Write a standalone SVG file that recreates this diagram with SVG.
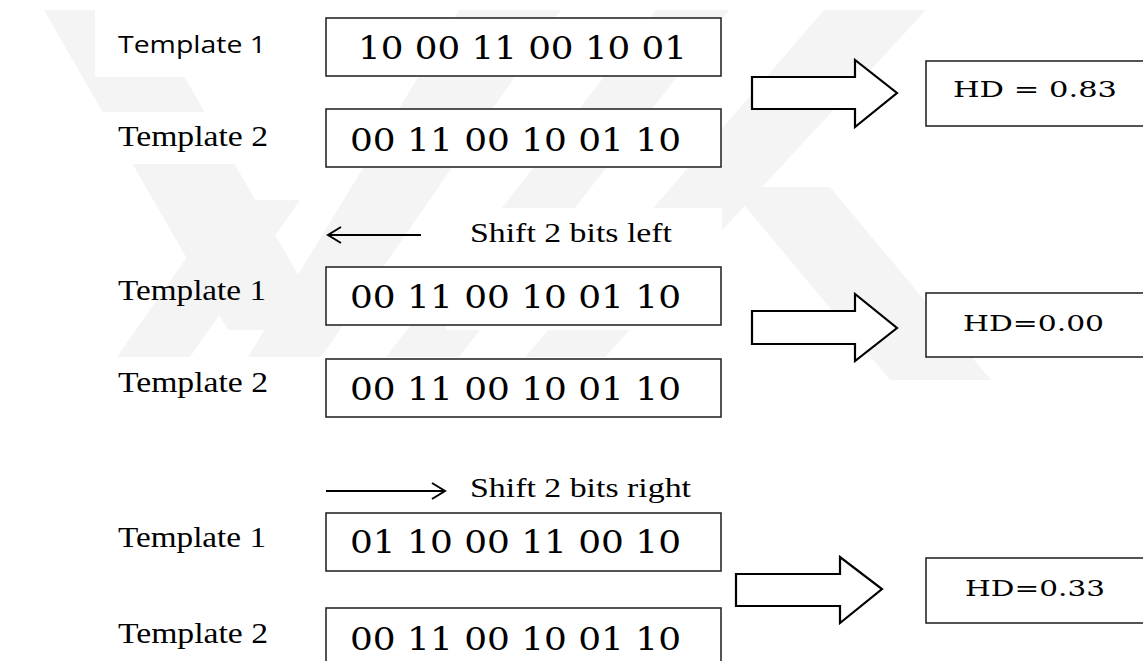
<svg xmlns="http://www.w3.org/2000/svg" width="1143" height="661" viewBox="0 0 1143 661">
  <style>
    .wm { fill: #f4f4f4; }
    .box { fill: #ffffff; stroke: #2a2a2a; stroke-width: 1.6; }
    .block { fill: #ffffff; stroke: #000000; stroke-width: 2.2; stroke-linejoin: miter; }
    .thin { fill: none; stroke: #000000; stroke-width: 2; }
    .bits { font-family: "DejaVu Serif", "Liberation Serif", serif; font-size: 31px; fill: #000; }
    .lbl { font-family: "Liberation Serif", serif; font-size: 29px; fill: #000; }
    .lbl-sans { font-family: "Open Sans", "Liberation Sans", sans-serif; font-size: 23px; fill: #000; }
    .shift { font-family: "Liberation Serif", serif; font-size: 27px; fill: #000; }
    .hd { font-family: "DejaVu Serif", "Liberation Serif", serif; font-size: 23px; fill: #000; }
  </style>
  <rect width="1143" height="661" fill="#ffffff"/>

  <!-- faint background logo -->
  <g id="backdrop">
    <polygon class="wm" points="44,10 146,10 330,330 228,330"/>
    <polygon class="wm" points="248,357 321,357 561,10 459,10"/>
    <polygon class="wm" points="386,357 459,357 729,10 656,10"/>
    <polygon class="wm" points="525,357 605,357 926,10 824,10"/>
    <polygon class="wm" points="117,357 190,357 300,200 227,200"/>
    <polygon class="wm" points="729,187 830,187 991,380 890,380"/>
    <rect x="95" y="0" width="211" height="77" fill="#ffffff"/>
    <rect x="95" y="112" width="200" height="52" fill="#ffffff"/>
    <rect x="446" y="208" width="276" height="122" fill="#ffffff"/>
  </g>

  <!-- row labels -->
  <g id="labels">
    <text class="lbl-sans" x="118" y="53" textLength="148" lengthAdjust="spacingAndGlyphs">Template 1</text>
    <text class="lbl" x="118" y="146" textLength="150" lengthAdjust="spacingAndGlyphs">Template 2</text>
    <text class="lbl" x="118" y="300" textLength="148" lengthAdjust="spacingAndGlyphs">Template 1</text>
    <text class="lbl" x="118" y="392" textLength="150" lengthAdjust="spacingAndGlyphs">Template 2</text>
    <text class="lbl" x="118" y="547" textLength="148" lengthAdjust="spacingAndGlyphs">Template 1</text>
    <text class="lbl" x="118" y="643" textLength="150" lengthAdjust="spacingAndGlyphs">Template 2</text>
  </g>

  <!-- bit strings -->
  <g id="t1-original">
    <rect class="box" x="326" y="18" width="395" height="58"/>
    <text class="bits" x="358" y="59" textLength="329" lengthAdjust="spacingAndGlyphs">10 00 11 00 10 01</text>
  </g>
  <g id="t2-original">
    <rect class="box" x="326" y="109" width="395" height="58"/>
    <text class="bits" x="350" y="151" textLength="331" lengthAdjust="spacingAndGlyphs">00 11 00 10 01 10</text>
  </g>
  <g id="t1-left">
    <rect class="box" x="326" y="267" width="395" height="58"/>
    <text class="bits" x="350" y="308" textLength="331" lengthAdjust="spacingAndGlyphs">00 11 00 10 01 10</text>
  </g>
  <g id="t2-left">
    <rect class="box" x="326" y="359" width="395" height="58"/>
    <text class="bits" x="350" y="400" textLength="331" lengthAdjust="spacingAndGlyphs">00 11 00 10 01 10</text>
  </g>
  <g id="t1-right">
    <rect class="box" x="326" y="513" width="395" height="58"/>
    <text class="bits" x="350" y="553" textLength="331" lengthAdjust="spacingAndGlyphs">01 10 00 11 00 10</text>
  </g>
  <g id="t2-right">
    <rect class="box" x="326" y="608" width="395" height="60"/>
    <text class="bits" x="350" y="650" textLength="331" lengthAdjust="spacingAndGlyphs">00 11 00 10 01 10</text>
  </g>

  <!-- results -->
  <g id="hd-1">
    <rect class="box" x="926" y="61" width="222" height="65"/>
    <text class="hd" x="953" y="97" textLength="164" lengthAdjust="spacingAndGlyphs">HD = 0.83</text>
  </g>
  <g id="hd-2">
    <rect class="box" x="926" y="293" width="222" height="64"/>
    <text class="hd" x="963" y="331" textLength="141" lengthAdjust="spacingAndGlyphs">HD=0.00</text>
  </g>
  <g id="hd-3">
    <rect class="box" x="926" y="558" width="222" height="65"/>
    <text class="hd" x="965" y="596" textLength="140" lengthAdjust="spacingAndGlyphs">HD=0.33</text>
  </g>

  <!-- shift captions -->
  <g id="shift-left-caption">
    <text class="shift" x="470" y="242" textLength="202" lengthAdjust="spacingAndGlyphs">Shift 2 bits left</text>
  </g>
  <g id="shift-right-caption">
    <text class="shift" x="470" y="497" textLength="221" lengthAdjust="spacingAndGlyphs">Shift 2 bits right</text>
  </g>

  <!-- connectors -->
  <g id="connectors">
    <polygon class="block" points="752,77 855,77 855,60 897,93 855,127 855,109 752,109"/>
    <polygon class="block" points="752,311 855,311 855,294 897,328 855,361 855,344 752,344"/>
    <polygon class="block" points="736,574 840,574 840,557 882,589 840,623 840,606 736,606"/>
    <line class="thin" x1="328" y1="235" x2="421" y2="235"/>
    <polyline class="thin" points="341,227 328,235 341,243"/>
    <line class="thin" x1="326" y1="491" x2="445" y2="491"/>
    <polyline class="thin" points="432,483 445,491 432,499"/>
  </g>
</svg>
